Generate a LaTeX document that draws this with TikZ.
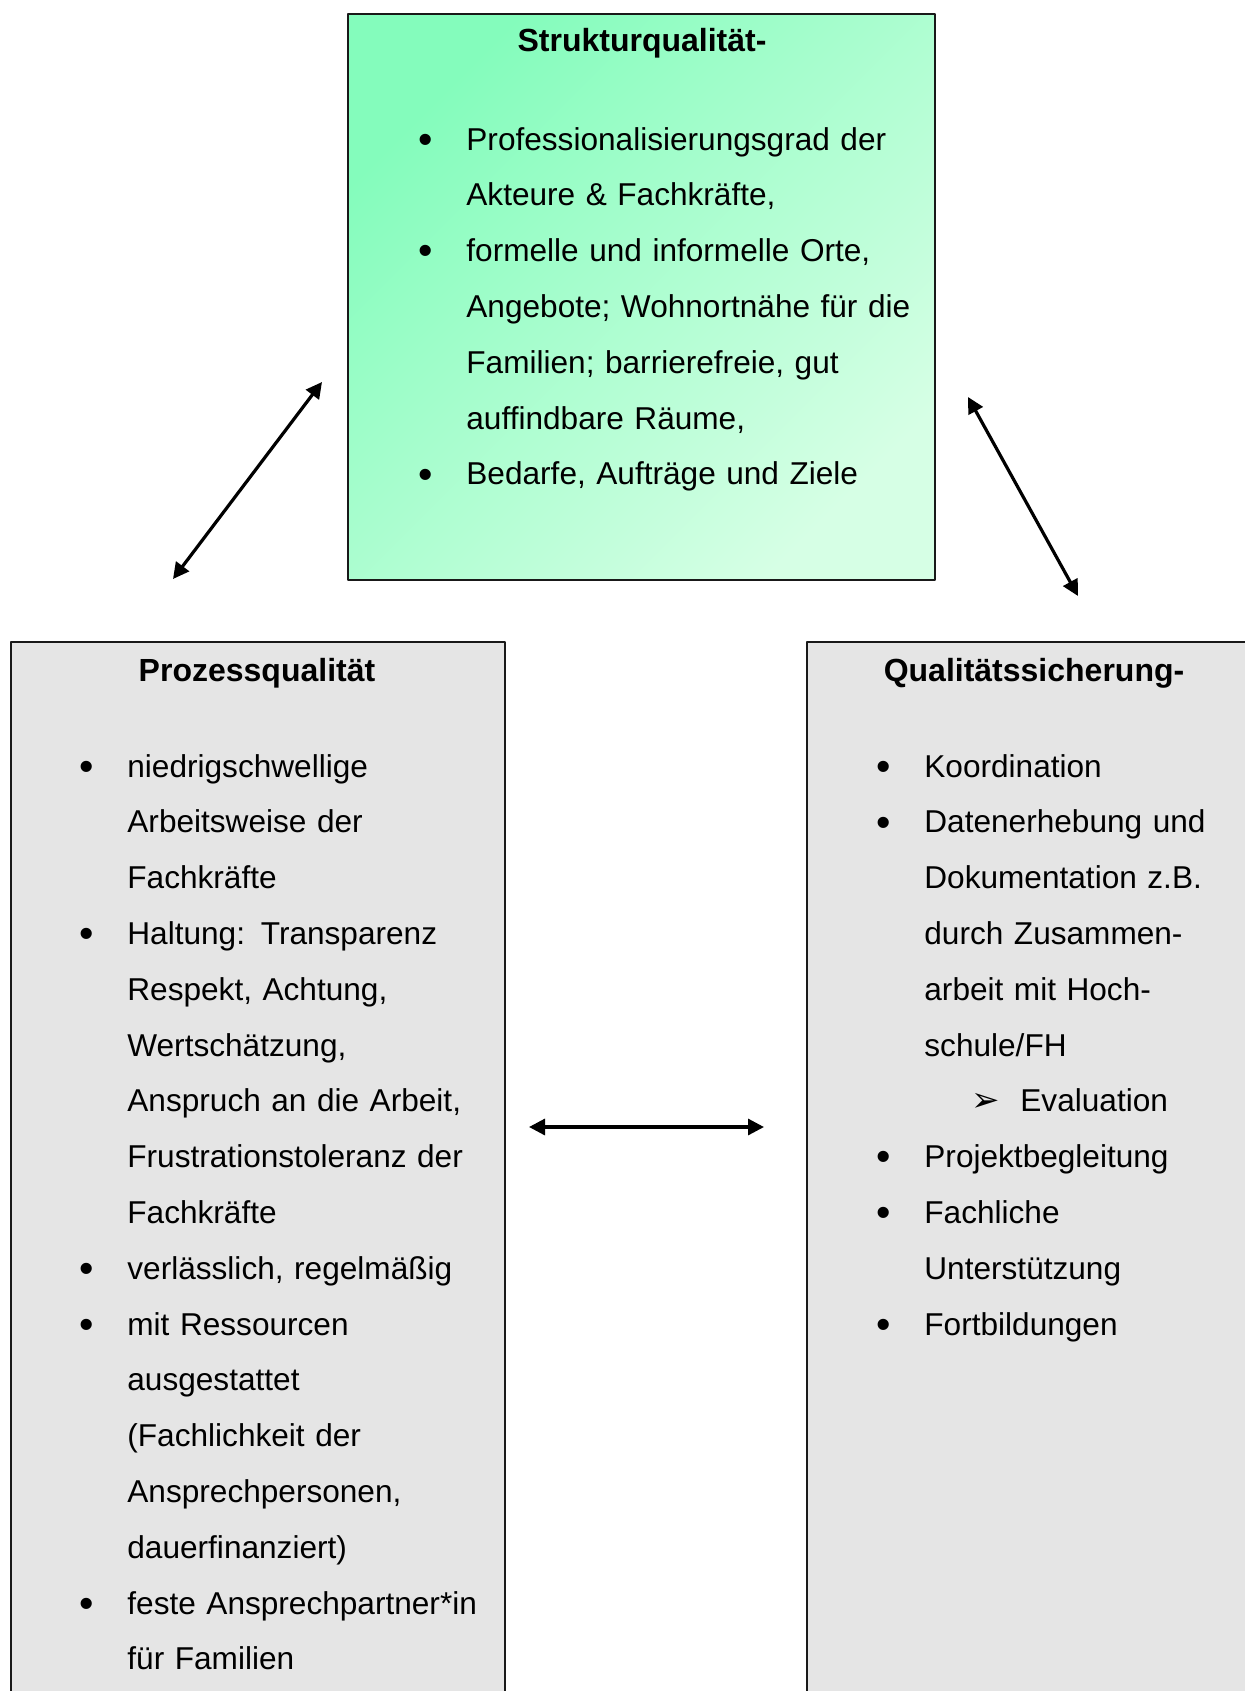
\documentclass[tikz,border=0pt]{standalone}
\usepackage{fontspec}
\setmainfont{Liberation Sans}
\newfontfamily\dingfont{DejaVu Sans}
\usetikzlibrary{arrows.meta}
\definecolor{mint}{RGB}{132,252,188}
\definecolor{mintpale}{RGB}{214,255,229}
\definecolor{panelgrey}{RGB}{229,229,229}
\setlength{\parindent}{0pt}
\newcommand\pkt{\leavevmode\llap{\raisebox{-1.6pt}{\scalebox{1.3}{\textbullet}}\hspace{17pt}}}

\begin{document}
\begin{tikzpicture}[x=0.5pt,y=-0.5pt,line join=round,
  kasten/.style={draw=black!90,line width=1.2pt,inner sep=0pt,anchor=north west},
  titel/.style={font=\fontsize{16}{20}\selectfont\bfseries,anchor=base,inner sep=0pt},
  liste/.style={font=\fontsize{15.8}{27.9}\selectfont,anchor=base west,inner sep=0pt,text width=#1,align=left},
  pfeil/.style={{Triangle[length=8pt,width=8pt]}-{Triangle[length=8pt,width=8pt]},line width=1.6pt}]
  \useasboundingbox (0,0) rectangle (1245,1691);
  \clip (0,0) rectangle (1245,1691);
  % die drei Kaesten
  \node[kasten,top color=mint,bottom color=mintpale,shading angle=45,minimum width=293.5pt,minimum height=283pt] (struktur) at (347,13) {};
  \node[kasten,fill=panelgrey,minimum width=247pt,minimum height=540pt] (prozess) at (10,641) {};
  \node[kasten,fill=panelgrey,minimum width=228pt,minimum height=540pt] (sicherung) at (806,641) {};
  \node[titel] (strukturtitel) at (642,52) {Strukturqualität-};
  \node[titel] (prozesstitel) at (257,681) {Prozessqualität};
  \node[titel] (sicherungtitel) at (1034,681) {Qualitätssicherung-};
  \node[liste=234pt] (strukturliste) at (466,150) {\pkt Professionalisierungsgrad der\\
    Akteure \& Fachkräfte,\\
    \pkt formelle und informelle Orte,\\
    Angebote; Wohnortnähe für die\\
    Familien; barrierefreie, gut\\
    auffindbare Räume,\\
    \pkt Bedarfe, Aufträge und Ziele};
  \node[liste=188pt] (prozessliste) at (127,777) {\pkt niedrigschwellige\\
    Arbeitsweise der\\
    Fachkräfte\\
    \pkt Haltung: Transparenz\\
    Respekt, Achtung,\\
    Wertschätzung,\\
    Anspruch an die Arbeit,\\
    Frustrationstoleranz der\\
    Fachkräfte\\
    \pkt verlässlich, regelmäßig\\
    \pkt mit Ressourcen\\
    ausgestattet\\
    (Fachlichkeit der\\
    Ansprechpersonen,\\
    dauerfinanziert)\\
    \pkt feste Ansprechpartner*in\\
    für Familien};
  \node[liste=150pt] (sicherungliste) at (924,777) {\pkt Koordination\\
    \pkt Datenerhebung und\\
    Dokumentation z.B.\\
    durch Zusammen-\\
    arbeit mit Hoch-\\
    schule/FH\\
    \hspace*{23.5pt}\makebox[24.5pt][l]{\dingfont\fontsize{17}{16}\selectfont ➢}Evaluation\\
    \pkt Projektbegleitung\\
    \pkt Fachliche\\
    Unterstützung\\
    \pkt Fortbildungen};
  % Pfeile zwischen den Kaesten
  \coordinate (ps) at (173,579); \coordinate (sp) at (322,382);
  \coordinate (sq) at (968,397); \coordinate (qs) at (1078,596);
  \coordinate (pq) at (529,1127); \coordinate (qp) at (764,1127);
  \draw[pfeil] (ps) -- (sp);
  \draw[pfeil] (sq) -- (qs);
  \draw[pfeil] (pq) -- (qp);
\end{tikzpicture}
\end{document}
